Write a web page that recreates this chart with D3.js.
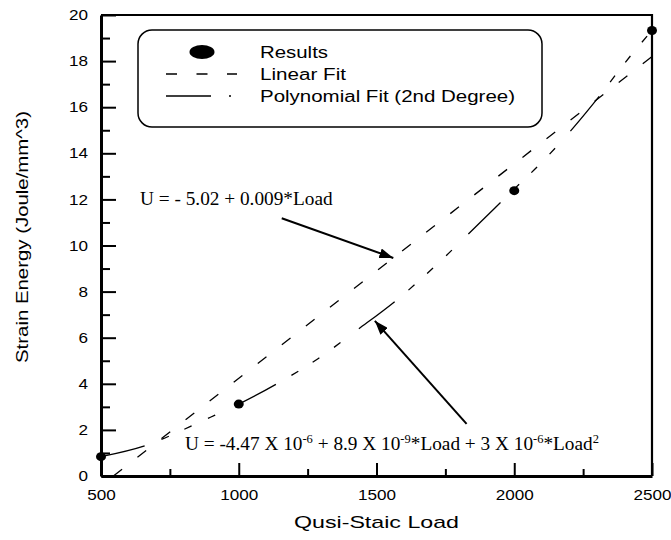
<!DOCTYPE html>
<html>
<head>
<meta charset="utf-8">
<script src="https://cdn.jsdelivr.net/npm/d3@7"></script>
<style>
    body{margin:0;background:#fff;}
    svg{display:block;}
</style>
</head>
<body>
<div id="chart"></div>
<script>
// measured results
var resultLoad = [500, 1000, 2000, 2500];
var resultEnergy = [0.84, 3.12, 12.38, 19.33];

// linear fit
var linearLoad = [545, 2500];
var linearEnergy = [0, 18.2];

// 2nd degree fit
var polyLoad = [500, 666, 823, 914, 1000, 1143, 1289, 1433, 1585, 1730, 1876, 1994, 2099, 2214, 2317, 2400, 2500];
var polyEnergy = [0.84, 1.34, 2.14, 2.64, 3.12, 4.03, 5.1, 6.36, 7.75, 9.3, 11.0, 12.38, 13.6, 15.1, 16.6, 17.9, 19.33];

// ticks
var xMajor = [500, 1000, 1500, 2000, 2500];
var xMinor = [750, 1250, 1750, 2250];
var yMajor = [0, 2, 4, 6, 8, 10, 12, 14, 16, 18, 20];
var yMinor = [1, 3, 5, 7, 9, 11, 13, 15, 17, 19];

var legendNames = ['Results', 'Linear Fit', 'Polynomial Fit (2nd Degree)'];

var W = 671, H = 540;
var box = {left:101, right:652, top:15, bottom:476};
var sans = 'Liberation Sans, Arial, sans-serif';
var serif = 'Liberation Serif, Times New Roman, serif';
var stretch = 1.18;

var svg = d3.select('#chart').append('svg')
    .attr('width', W)
    .attr('height', H);

var x = d3.scaleLinear().domain([500, 2500]).range([box.left, box.right]);
var y = d3.scaleLinear().domain([0, 20]).range([box.bottom, box.top]);

//axis-x
var xAxis = d3.axisBottom(x).tickValues(xMajor).tickFormat(d3.format('d'))
    .tickSizeInner(-13).tickSizeOuter(0).tickPadding(14);
svg.append('g').attr('transform', 'translate(0,' + box.bottom + ')').call(xAxis);
svg.append('g').attr('transform', 'translate(0,' + box.bottom + ')')
    .call(d3.axisBottom(x).tickValues(xMinor).tickSizeInner(-7).tickSizeOuter(0).tickFormat(''))
    .select('.domain').remove();

//axis-y
var yAxis = d3.axisLeft(y).tickValues(yMajor).tickFormat(d3.format('d'))
    .tickSizeInner(-15).tickSizeOuter(0).tickPadding(13 / stretch);
svg.append('g').attr('transform', 'translate(' + box.left + ',0)').call(yAxis);
svg.append('g').attr('transform', 'translate(' + box.left + ',0)')
    .call(d3.axisLeft(y).tickValues(yMinor).tickSizeInner(-9).tickSizeOuter(0).tickFormat(''))
    .select('.domain').remove();

svg.selectAll('.tick line').attr('stroke', '#000').attr('stroke-width', 2);
svg.selectAll('.domain').attr('stroke', '#000').attr('stroke-width', 3);
svg.selectAll('.tick text')
    .attr('font-family', sans)
    .attr('font-size', 14.5)
    .attr('fill', '#000')
    .attr('transform', 'scale(' + stretch + ',1)');

// top and right frame
svg.append('path')
    .attr('d', 'M' + box.left + ',' + box.top + 'H' + box.right + 'V' + box.bottom)
    .attr('fill', 'none')
    .attr('stroke', '#000')
    .attr('stroke-width', 2.2);

// axis titles
svg.append('text')
    .attr('x', (box.left + box.right) / 2)
    .attr('y', 528)
    .attr('text-anchor', 'middle')
    .attr('font-family', sans)
    .attr('font-size', 17)
    .attr('textLength', 165)
    .attr('lengthAdjust', 'spacingAndGlyphs')
    .text('Qusi-Staic Load');

svg.append('text')
    .attr('transform', 'translate(28,237) rotate(-90)')
    .attr('text-anchor', 'middle')
    .attr('font-family', sans)
    .attr('font-size', 17)
    .attr('textLength', 252)
    .attr('lengthAdjust', 'spacingAndGlyphs')
    .text('Strain Energy (Joule/mm^3)');

var linearDash = '11,19.5';
var polyDash = '45,18,8,17,8,18,8,23';

//fits
var line = d3.line()
    .x(function(d){ return x(d[0]); })
    .y(function(d){ return y(d[1]); });

svg.append('path')
    .datum(d3.zip(linearLoad, linearEnergy))
    .attr('d', line)
    .attr('fill', 'none')
    .attr('stroke', '#000')
    .attr('stroke-width', 1.3)
    .attr('stroke-dasharray', linearDash);

svg.append('path')
    .datum(d3.zip(polyLoad, polyEnergy))
    .attr('d', line.curve(d3.curveMonotoneX))
    .attr('fill', 'none')
    .attr('stroke', '#000')
    .attr('stroke-width', 1.3)
    .attr('stroke-dasharray', polyDash);

//points
svg.append('g').selectAll('ellipse')
    .data(d3.zip(resultLoad, resultEnergy))
    .enter().append('ellipse')
    .attr('cx', function(d){ return x(d[0]); })
    .attr('cy', function(d){ return y(d[1]); })
    .attr('rx', 5)
    .attr('ry', 4.5)
    .attr('fill', '#000');

//legend
var $legend = svg.append('g');
$legend.append('rect')
    .attr('x', 138).attr('y', 30)
    .attr('width', 404).attr('height', 97)
    .attr('rx', 14).attr('ry', 14)
    .attr('fill', '#fff')
    .attr('stroke', '#000')
    .attr('stroke-width', 1.5);
var rowY = [52, 74, 96];
var textLen = [68, 86, 255];
$legend.append('ellipse')
    .attr('cx', 202).attr('cy', rowY[0])
    .attr('rx', 12.5).attr('ry', 7)
    .attr('fill', '#000');
$legend.append('line')
    .attr('x1', 166).attr('x2', 237)
    .attr('y1', rowY[1]).attr('y2', rowY[1])
    .attr('stroke', '#000').attr('stroke-width', 1.3)
    .attr('stroke-dasharray', linearDash);
$legend.append('line')
    .attr('x1', 166).attr('x2', 231)
    .attr('y1', rowY[2]).attr('y2', rowY[2])
    .attr('stroke', '#000').attr('stroke-width', 1.3)
    .attr('stroke-dasharray', polyDash);
for(var i=0; i<legendNames.length; i++){
    $legend.append('text')
        .attr('x', 260)
        .attr('y', rowY[i])
        .attr('dy', '0.35em')
        .attr('font-family', sans)
        .attr('font-size', 16)
        .attr('textLength', textLen[i])
        .attr('lengthAdjust', 'spacingAndGlyphs')
        .text(legendNames[i]);
}

//annotations
svg.append('defs').append('marker')
    .attr('id', 'head')
    .attr('viewBox', '0 0 14 10')
    .attr('refX', 14).attr('refY', 5)
    .attr('markerWidth', 14).attr('markerHeight', 10)
    .attr('markerUnits', 'userSpaceOnUse')
    .attr('orient', 'auto')
    .append('path')
    .attr('d', 'M0,0L14,5L0,10Z')
    .attr('fill', '#000');

// arrows: [tail load, tail energy, tip load, tip energy]
var arrows = [[1156, 11.18, 1561, 9.46], [1827, 2.26, 1494, 6.73]];
svg.append('g').selectAll('line')
    .data(arrows)
    .enter().append('line')
    .attr('x1', function(d){ return x(d[0]); })
    .attr('y1', function(d){ return y(d[1]); })
    .attr('x2', function(d){ return x(d[2]); })
    .attr('y2', function(d){ return y(d[3]); })
    .attr('stroke', '#000')
    .attr('stroke-width', 2)
    .attr('marker-end', 'url(#head)');

svg.append('text')
    .attr('x', 140).attr('y', 205)
    .attr('font-family', serif)
    .attr('font-size', 19.3)
    .text('U = - 5.02 + 0.009*Load');

var $eq = svg.append('text')
    .attr('x', 185).attr('y', 450)
    .attr('font-family', serif)
    .attr('font-size', 19.3);
var eqParts = [['U = -4.47 X 10', 0], ['-6', 1], [' + 8.9 X 10', 0], ['-9', 1], ['*Load + 3 X 10', 0], ['-6', 1], ['*Load', 0], ['2', 1]];
var prevSup = 0;
eqParts.forEach(function(p){
    var shift = (p[1] - prevSup) * -7;
    $eq.append('tspan')
        .attr('dy', shift)
        .attr('font-size', p[1] ? 12.5 : 19.3)
        .text(p[0]);
    prevSup = p[1];
});
</script>
</body>
</html>
